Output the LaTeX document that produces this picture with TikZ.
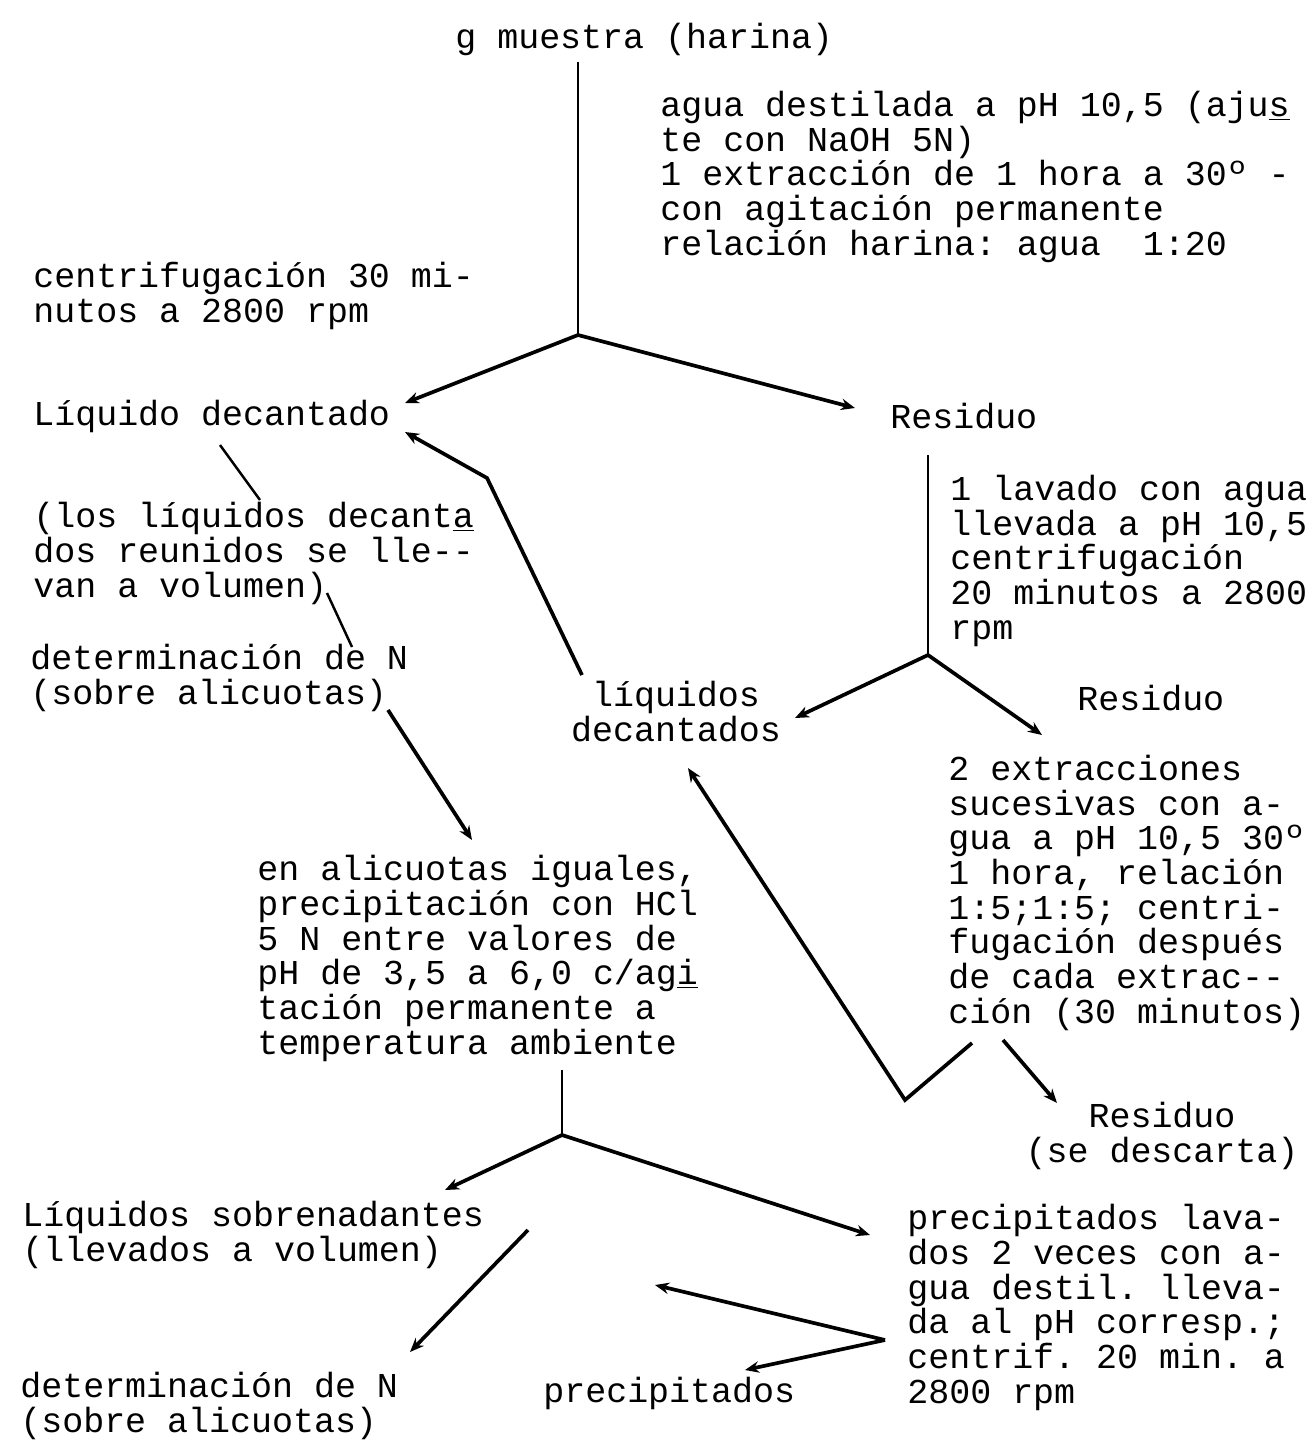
\documentclass[tikz,border=0pt]{standalone}
\usepackage{fontspec}
\setmonofont{Liberation Mono}
\usetikzlibrary{arrows.meta}

\begin{document}
\begin{tikzpicture}[x=0.02cm,y=-0.02cm,
    txt/.style={font=\ttfamily\fontsize{19.9}{19.7}\selectfont,inner sep=0pt,align=left,anchor=base west},
    flow/.style={line width=2.1pt,-{Stealth[length=8pt,width=6.5pt]}},
    stem/.style={line width=1.4pt}]
    \useasboundingbox (0,0) rectangle (1310,1444);
    \node[txt] (sample) at (455,48) {g muestra (harina)};
    \node[txt] (water) at (660,255) {agua destilada a pH 10,5 (aju\underline{s}\\te con NaOH 5N)\\1 extracción de 1 hora a 30º -\\con agitación permanente\\relación harina: agua~~1:20};
    \node[txt] (spin1) at (33,322) {centrifugación 30 mi-\\nutos a 2800 rpm};
    \node[txt] (liqdec) at (33,425) {Líquido decantado};
    \node[txt] (res1) at (890,428) {Residuo};
    \node[txt] (vol) at (33,597) {(los líquidos decant\underline{a}\\dos reunidos se lle--\\van a volumen)};
    \node[txt] (detN) at (30,704) {determinación de N\\(sobre alicuotas)};
    \node[txt] (wash) at (950,639) {1 lavado con agua\\llevada a pH 10,5\\centrifugación\\20 minutos a 2800\\rpm};
    \node[txt,align=center,anchor=base] (liqdecs) at (676,741) {líquidos\\decantados};
    \node[txt] (res2) at (1077,710) {Residuo};
    \node[txt] (extr) at (948,1023) {2 extracciones\\sucesivas con a-\\gua a pH 10,5 30º\\1 hora, relación\\1:5;1:5; centri-\\fugación después\\de cada extrac--\\ción (30 minutos)};
    \node[txt] (alic) at (257,1054) {en alicuotas iguales,\\precipitación con HCl\\5 N entre valores de\\pH de 3,5 a 6,0 c/ag\underline{i}\\tación permanente a\\temperatura ambiente};
    \node[txt,align=center,anchor=base] (discard) at (1162,1162) {Residuo\\(se descarta)};
    \node[txt] (sobre) at (22,1261) {Líquidos sobrenadantes\\(llevados a volumen)};
    \node[txt] (prec) at (907,1403) {precipitados lava-\\dos 2 veces con a-\\gua destil. lleva-\\da al pH corresp.;\\centrif. 20 min. a\\2800 rpm};
    \node[txt] (detN2) at (20,1432) {determinación de N\\(sobre alicuotas)};
    \node[txt] (precip) at (543,1402) {precipitados};

    \coordinate (sample-foot) at (578,62);
    \coordinate (split1) at (578,335);
    \coordinate (to-liqdec) at (405,403);
    \coordinate (to-res1) at (855,408);
    \coordinate (liqdec-foot) at (220,445);
    \coordinate (vol-head) at (260,500);
    \coordinate (vol-foot) at (327,593);
    \coordinate (detN-head) at (352,647);
    \coordinate (detN-foot) at (388,710);
    \coordinate (to-alic) at (472,840);
    \coordinate (liqdecs-head) at (582,675);
    \coordinate (bend1) at (487,478);
    \coordinate (to-liqdec2) at (405,432);
    \coordinate (res1-foot) at (928,455);
    \coordinate (split2) at (928,655);
    \coordinate (to-liqdecs) at (795,718);
    \coordinate (to-res2) at (1042,735);
    \coordinate (extr-foot) at (972,1043);
    \coordinate (bend2) at (905,1100);
    \coordinate (to-liqdecs2) at (688,768);
    \coordinate (extr-foot2) at (1003,1040);
    \coordinate (to-discard) at (1057,1103);
    \coordinate (alic-foot) at (562,1070);
    \coordinate (split3) at (562,1135);
    \coordinate (to-sobre) at (445,1190);
    \coordinate (to-prec) at (870,1235);
    \coordinate (sobre-foot) at (528,1230);
    \coordinate (to-detN2) at (410,1352);
    \coordinate (prec-foot) at (885,1340);
    \coordinate (to-back) at (655,1285);
    \coordinate (to-precip) at (745,1370);

    \draw[stem] (sample-foot) -- (split1);
    \draw[flow] (split1) -- (to-liqdec);
    \draw[flow] (split1) -- (to-res1);
    \draw[stem] (liqdec-foot) -- (vol-head);
    \draw[stem] (vol-foot) -- (detN-head);
    \draw[flow] (detN-foot) -- (to-alic);
    \draw[flow] (liqdecs-head) -- (bend1) -- (to-liqdec2);
    \draw[stem] (res1-foot) -- (split2);
    \draw[flow] (split2) -- (to-liqdecs);
    \draw[flow] (split2) -- (to-res2);
    \draw[flow] (extr-foot) -- (bend2) -- (to-liqdecs2);
    \draw[flow] (extr-foot2) -- (to-discard);
    \draw[stem] (alic-foot) -- (split3);
    \draw[flow] (split3) -- (to-sobre);
    \draw[flow] (split3) -- (to-prec);
    \draw[flow] (sobre-foot) -- (to-detN2);
    \draw[flow] (prec-foot) -- (to-back);
    \draw[flow] (prec-foot) -- (to-precip);
\end{tikzpicture}
\end{document}
